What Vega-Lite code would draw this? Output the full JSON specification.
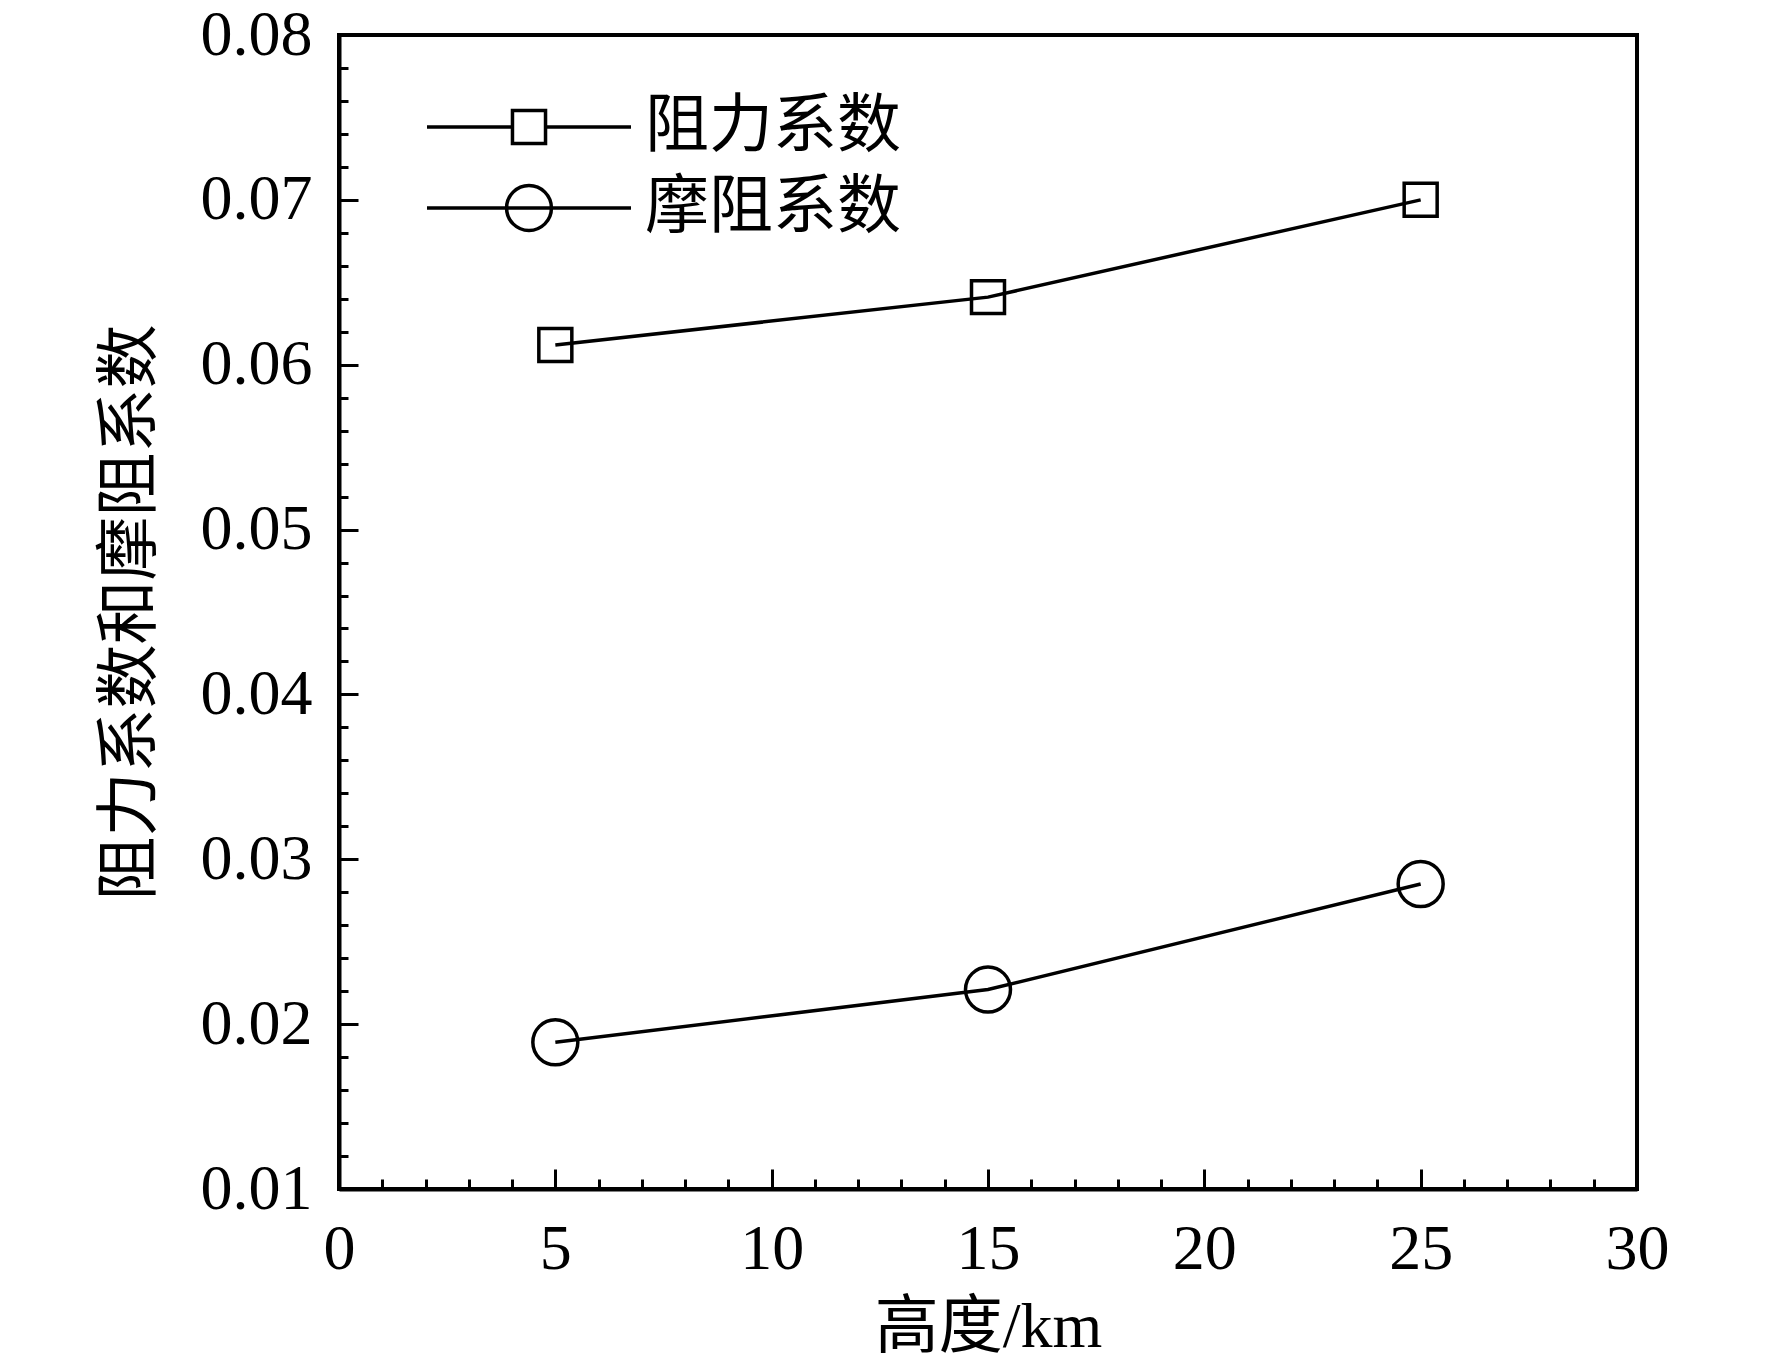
{
  "$schema": "https://vega.github.io/schema/vega-lite/v6.json",
  "width": 1298,
  "height": 1154,
  "autosize": {"type": "none"},
  "padding": {"left": 339, "top": 35, "right": 135, "bottom": 178},
  "background": "#FFFFFF",
  "config": {
    "view": {"stroke": "black", "strokeWidth": 4},
    "axis": {
      "domainColor": "black",
      "domainWidth": 4,
      "tickColor": "black",
      "tickWidth": 3,
      "labelColor": "black",
      "labelFont": "Liberation Serif",
      "labelFontSize": 64,
      "titleColor": "black",
      "titleFontWeight": "normal",
      "titleFontSize": 64,
      "grid": false
    },
    "legend": {
      "labelFont": "Noto Sans CJK SC",
      "labelFontSize": 64,
      "labelColor": "black",
      "labelLimit": 600
    }
  },
  "data": {
    "values": [
      {"h": 5, "c": 0.0612, "s": "阻力系数"},
      {"h": 15, "c": 0.0641, "s": "阻力系数"},
      {"h": 25, "c": 0.0700, "s": "阻力系数"},
      {"h": 5, "c": 0.0189, "s": "摩阻系数"},
      {"h": 15, "c": 0.0221, "s": "摩阻系数"},
      {"h": 25, "c": 0.0285, "s": "摩阻系数"}
    ]
  },
  "layer": [
    {
      "mark": {"type": "line", "color": "black", "strokeWidth": 3.5},
      "encoding": {
        "x": {
          "field": "h",
          "type": "quantitative",
          "scale": {"domain": [0, 30], "nice": false, "zero": false},
          "axis": {
            "orient": "bottom",
            "values": [0, 5, 10, 15, 20, 25, 30],
            "tickSize": -20,
            "labelPadding": 48,
            "labelFlush": false,
            "title": "高度/km",
            "titleFont": "'Liberation Serif', 'Noto Sans CJK SC'",
            "titlePadding": 14
          }
        },
        "y": {
          "field": "c",
          "type": "quantitative",
          "scale": {"domain": [0.01, 0.08], "nice": false, "zero": false},
          "axis": {
            "orient": "left",
            "values": [0.01, 0.02, 0.03, 0.04, 0.05, 0.06, 0.07, 0.08],
            "format": ".2f",
            "tickSize": -19,
            "labelPadding": 46,
            "labelFlush": false,
            "title": "阻力系数和摩阻系数",
            "titleFont": "Noto Sans CJK SC",
            "titlePadding": 38
          }
        },
        "detail": {"field": "s"}
      }
    },
    {
      "mark": {"type": "point", "filled": false, "color": "black", "strokeWidth": 3.5, "size": 2025, "opacity": 1},
      "encoding": {
        "x": {
          "field": "h",
          "type": "quantitative",
          "scale": {"domain": [0, 30], "nice": false, "zero": false},
          "axis": {
            "orient": "bottom",
            "values": [1, 2, 3, 4, 6, 7, 8, 9, 11, 12, 13, 14, 16, 17, 18, 19, 21, 22, 23, 24, 26, 27, 28, 29],
            "tickSize": -10,
            "labels": false,
            "domain": false,
            "title": null
          }
        },
        "y": {
          "field": "c",
          "type": "quantitative",
          "scale": {"domain": [0.01, 0.08], "nice": false, "zero": false},
          "axis": {
            "orient": "left",
            "values": [0.012, 0.014, 0.016, 0.018, 0.022, 0.024, 0.026, 0.028, 0.032, 0.034, 0.036, 0.038, 0.042, 0.044, 0.046, 0.048, 0.052, 0.054, 0.056, 0.058, 0.062, 0.064, 0.066, 0.068, 0.072, 0.074, 0.076, 0.078],
            "tickSize": -9,
            "labels": false,
            "domain": false,
            "title": null
          }
        },
        "shape": {
          "field": "s",
          "type": "nominal",
          "scale": {
            "domain": ["阻力系数", "摩阻系数"],
            "range": ["M-0.733,-0.733H0.733V0.733H-0.733Z", "circle"]
          },
          "legend": null
        }
      }
    },
    {
      "transform": [{"filter": "false"}],
      "mark": {"type": "point", "filled": false, "color": "black", "strokeWidth": 3.5, "size": 41616, "opacity": 1},
      "encoding": {
        "x": {
          "field": "h",
          "type": "quantitative",
          "scale": {"domain": [0, 30], "nice": false, "zero": false},
          "axis": null
        },
        "y": {
          "field": "c",
          "type": "quantitative",
          "scale": {"domain": [0.01, 0.08], "nice": false, "zero": false},
          "axis": null
        },
        "shape": {
          "field": "s",
          "type": "nominal",
          "scale": {
            "domain": ["阻力系数", "摩阻系数"],
            "range": [
              "M-1,0H-0.162M0.162,0H1M-0.162,-0.162H0.162V0.162H-0.162Z",
              "M-1,0H1M0.22,0A0.22,0.22 0 1,1 -0.22,0A0.22,0.22 0 1,1 0.22,0Z"
            ]
          },
          "legend": {
            "title": null,
            "orient": "none",
            "legendX": 86,
            "legendY": 60,
            "padding": 0,
            "symbolSize": 41616,
            "symbolStrokeWidth": 3.5,
            "symbolStrokeColor": "black",
            "symbolFillColor": "transparent",
            "labelOffset": 12,
            "clipHeight": 64,
            "rowPadding": 17
          }
        }
      }
    }
  ],
  "resolve": {
    "axis": {"x": "independent", "y": "independent"},
    "scale": {"shape": "independent"}
  }
}
